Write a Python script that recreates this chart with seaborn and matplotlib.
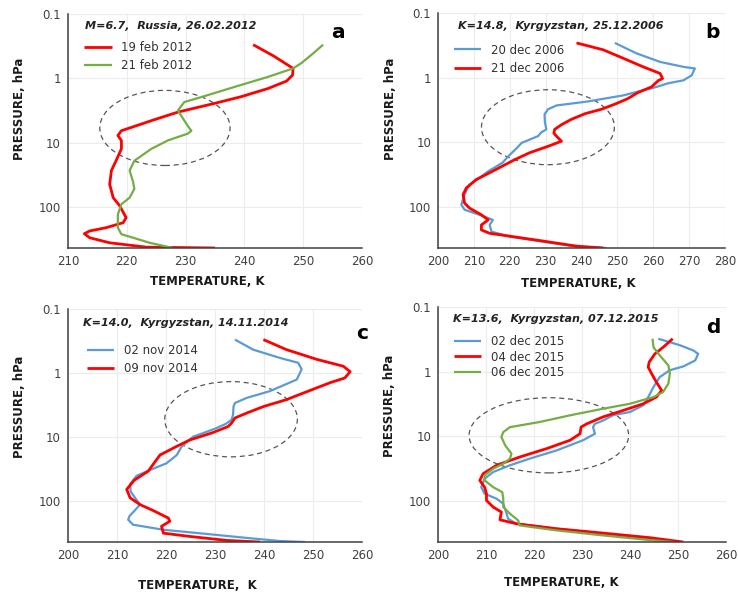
import numpy as np
import matplotlib
matplotlib.use("Agg")
import matplotlib.pyplot as plt
from matplotlib.patches import Ellipse
import seaborn as sns

# ---- data ----
# a) M=6.7, Russia, 26.02.2012
a_feb19_p = [0.30, 0.45, 0.70, 0.89, 1.10, 1.44, 1.93, 2.45, 3.34, 4.5, 6.5, 7.7, 9.2, 12.4, 18.9, 27, 44, 71,
             95, 145, 174, 208, 234, 258, 298, 357, 417, 430]
a_feb19_t = [241.5, 245.0, 248.3, 248.2, 247.2, 244.0, 239.4, 234.9, 228.7, 224.3, 219.1, 218.5, 219.1, 219.1,
             218.2, 217.4, 217.1, 217.7, 218.8, 219.9, 219.4, 216.5, 213.7, 212.8, 213.7, 217.1, 223.3, 235.0]
a_feb21_p = [0.30, 0.41, 0.58, 0.70, 0.95, 1.36, 1.95, 2.33, 3.15, 4.24, 5.5, 6.5, 7.2, 9.2, 12.4, 19, 27, 41,
             52, 71, 90, 129, 208, 263, 298, 357, 430]
a_feb21_t = [253.4, 251.7, 249.7, 248.3, 244.0, 238.3, 232.7, 229.8, 228.7, 229.6, 230.4, 231.0, 230.4, 227.0,
             224.2, 221.3, 220.5, 221.1, 221.3, 220.5, 219.1, 218.5, 218.5, 219.1, 221.1, 223.9, 227.9]

# b) K=14.8, Kyrgyzstan, 25.12.2006
b_dec20_p = [0.29, 0.42, 0.57, 0.68, 0.72, 0.92, 1.10, 1.22, 1.39, 1.88, 2.33, 2.69, 3.07, 3.67, 4.9, 6.3, 7.0,
             8.0, 10.2, 12.5, 16.4, 20.6, 28, 35.3, 44.9, 54, 64, 92, 110, 132, 158, 189, 240, 287, 344, 411, 430]
b_dec20_t = [249.3, 255.3, 261.9, 268.4, 271.6, 270.7, 268.4, 264.1, 260.9, 251.6, 241.8, 233.0, 230.7, 229.7,
             229.8, 230.2, 228.8, 227.9, 223.3, 221.8, 219.6, 218.0, 214.0, 211.6, 208.8, 208.0, 207.4, 206.5,
             207.4, 211.6, 215.3, 214.4, 214.9, 220.0, 229.3, 238.6, 247.0]
b_dec21_p = [0.29, 0.37, 0.50, 0.68, 0.86, 1.03, 1.11, 1.39, 1.69, 2.12, 2.54, 3.07, 3.6, 4.4, 5.3, 6.3, 7.2,
             8.0, 9.6, 11.5, 14.5, 18.5, 24, 29.5, 37.5, 50.6, 64, 87, 104, 132, 158, 189, 226, 255, 287, 336,
             402, 430]
b_dec21_t = [238.6, 246.0, 251.6, 257.2, 261.9, 262.6, 261.4, 259.5, 255.8, 252.8, 249.5, 245.6, 241.0, 237.2,
             234.5, 232.5, 232.3, 233.0, 234.4, 230.7, 225.5, 221.4, 217.5, 214.4, 210.7, 207.9, 207.0, 207.4,
             208.8, 212.1, 214.0, 212.1, 212.1, 214.4, 220.9, 229.3, 238.6, 246.0]

# c) K=14.0, Kyrgyzstan, 14.11.2014
c_nov02_p = [0.30, 0.43, 0.58, 0.69, 0.87, 1.26, 1.91, 2.43, 2.92, 3.3, 4.45, 5.33, 6.2, 7.2, 8.5, 9.75, 14,
             19, 25.5, 32.5, 40, 54, 70, 90, 112, 140, 168, 193, 231, 277, 320, 375, 415, 430]
c_nov02_t = [234.1, 237.8, 243.3, 247.0, 247.7, 246.7, 241.2, 236.5, 234.1, 233.8, 233.7, 233.4, 232.2, 230.3,
             227.8, 225.6, 223.2, 222.2, 220.1, 216.7, 214.0, 212.7, 212.8, 213.8, 214.7, 213.6, 212.6, 212.3,
             213.3, 219.5, 228.0, 237.1, 243.3, 248.4]
c_nov09_p = [0.30, 0.43, 0.61, 0.78, 0.95, 1.19, 1.41, 2.05, 2.59, 3.3, 4.19, 5.0, 6.0, 6.8, 8.5, 11.0, 14.1,
             18.9, 24, 33.7, 47, 65, 88, 112, 140, 182, 204, 245, 313, 352, 406, 430]
c_nov09_t = [239.9, 244.6, 250.8, 256.2, 257.6, 256.5, 253.5, 248.0, 244.6, 240.0, 236.5, 234.1, 233.4, 232.7,
             229.5, 224.9, 222.0, 218.8, 217.8, 216.4, 213.5, 212.0, 212.7, 214.7, 217.5, 220.5, 220.8, 219.1,
             219.5, 224.9, 232.4, 239.2]

# d) K=13.6, Kyrgyzstan, 07.12.2015
d_dec02_p = [0.31, 0.39, 0.47, 0.53, 0.67, 0.83, 0.95, 1.21, 1.73, 2.47, 3.3, 4.2, 4.7, 5.7, 6.4, 7.2, 9.1,
             11.5, 16.5, 22.1, 28, 35.6, 45.2, 61, 77, 92, 110, 157, 188, 224, 268, 320, 382, 430]
d_dec02_t = [245.9, 250.4, 253.2, 254.2, 253.6, 251.1, 248.3, 246.2, 244.9, 243.8, 242.8, 240.0, 236.5, 234.4,
             232.7, 232.3, 232.7, 230.2, 224.7, 219.1, 215.0, 211.5, 209.7, 209.0, 209.7, 212.2, 213.6, 214.3,
             214.6, 216.3, 224.7, 234.4, 243.5, 250.4]
d_dec04_p = [0.31, 0.42, 0.53, 0.71, 0.85, 1.07, 1.45, 1.95, 2.47, 3.13, 3.97, 5.0, 6.4, 7.2, 9.1, 11.5, 15.5,
             20.9, 28, 37.8, 47.9, 61, 77, 98, 124, 148, 195, 224, 268, 313, 369, 430]
d_dec04_t = [248.9, 246.9, 245.2, 244.0, 243.8, 244.5, 245.5, 246.6, 245.5, 242.8, 238.6, 234.4, 231.0, 229.8,
             229.6, 227.5, 222.6, 217.0, 212.2, 209.4, 208.7, 209.7, 210.1, 210.1, 211.5, 213.2, 212.9, 216.3,
             224.7, 234.4, 244.2, 251.1]
d_dec06_p = [0.31, 0.42, 0.56, 0.80, 1.07, 1.53, 2.06, 2.47, 3.13, 3.74, 4.73, 6.0, 7.2, 8.6, 10.2, 13.8, 18.5,
             22.1, 26.5, 31.6, 40, 47.9, 61, 73, 92, 124, 157, 199, 238, 284, 340, 397, 430]
d_dec06_t = [244.7, 244.9, 246.2, 248.0, 248.3, 248.0, 246.9, 244.9, 240.0, 234.4, 227.5, 221.2, 215.0, 213.6,
             213.2, 214.0, 215.3, 215.0, 213.6, 211.5, 209.7, 209.7, 211.5, 213.4, 213.6, 213.6, 215.0, 216.7,
             217.0, 224.7, 234.4, 243.5, 249.0]

p_ticks = [0.1, 1, 10, 100]
p_ticklabels = ["0.1", "1", "10", "100"]

RED = "#ff0000"
GREEN = "#74ad45"
BLUE = "#5b9bd5"

sns.set_style("white")
plt.rcParams["font.family"] = ["DejaVu Sans"]

fig = plt.figure(figsize=(7.38, 5.97), dpi=100)

panels = [
    dict(rect=[0.092, 0.5846, 0.3984, 0.392], xlim=(210, 260), xticks=range(210, 261, 10),
         title="M=6.7,  Russia, 26.02.2012", letter="a", tpos=(0.058, 0.947), lpos=(0.918, 0.92),
         leg=(0.04, 0.905), ls=0.45, ell=(0.330, 0.513, 0.443, 0.321), xlab="TEMPERATURE, K",
         xlc=(0.473, -0.145), ylc=(-0.163, 0.594),
         series=[(a_feb19_t, a_feb19_p, "19 feb 2012", RED, 2.0),
                 (a_feb21_t, a_feb21_p, "21 feb 2012", GREEN, 1.6)]),
    dict(rect=[0.5935, 0.5846, 0.3889, 0.3936], xlim=(200, 280), xticks=range(200, 281, 10),
         title="K=14.8,  Kyrgyzstan, 25.12.2006", letter="b", tpos=(0.07, 0.945), lpos=(0.958, 0.915),
         leg=(0.04, 0.89), ls=0.45, ell=(0.383, 0.514, 0.463, 0.319), xlab="TEMPERATURE, K",
         xlc=(0.488, -0.15), ylc=(-0.167, 0.594),
         series=[(b_dec20_t, b_dec20_p, "20 dec 2006", BLUE, 1.6),
                 (b_dec21_t, b_dec21_p, "21 dec 2006", RED, 2.0)]),
    dict(rect=[0.092, 0.0921, 0.3984, 0.3903], xlim=(200, 260), xticks=range(200, 261, 10),
         title="K=14.0,  Kyrgyzstan, 14.11.2014", letter="c", tpos=(0.051, 0.94), lpos=(1.0, 0.897),
         leg=(0.05, 0.87), ls=0.45, ell=(0.555, 0.527, 0.451, 0.323), xlab="TEMPERATURE,  K",
         xlc=(0.44, -0.185), ylc=(-0.163, 0.58),
         series=[(c_nov02_t, c_nov02_p, "02 nov 2014", BLUE, 1.6),
                 (c_nov09_t, c_nov09_p, "09 nov 2014", RED, 2.0)]),
    dict(rect=[0.5935, 0.0921, 0.3902, 0.3937], xlim=(200, 260), xticks=range(200, 261, 10),
         title="K=13.6,  Kyrgyzstan, 07.12.2015", letter="d", tpos=(0.052, 0.949), lpos=(0.955, 0.911),
         leg=(0.04, 0.9), ls=0.2, ell=(0.385, 0.454, 0.554, 0.32), xlab="TEMPERATURE, K",
         xlc=(0.427, -0.174), ylc=(-0.167, 0.58),
         series=[(d_dec02_t, d_dec02_p, "02 dec 2015", BLUE, 1.6),
                 (d_dec04_t, d_dec04_p, "04 dec 2015", RED, 2.0),
                 (d_dec06_t, d_dec06_p, "06 dec 2015", GREEN, 1.6)]),
]

for pn in panels:
    ax = fig.add_axes(pn["rect"])
    for t, p, lab, col, lw in pn["series"]:
        sns.lineplot(x=t, y=p, sort=False, estimator=None, color=col, lw=lw, label=lab, ax=ax,
                     solid_joinstyle="round", solid_capstyle="butt")

    ax.set_yscale("log")
    ax.set_ylim(430, 0.1)
    ax.set_yticks(p_ticks)
    ax.set_yticklabels(p_ticklabels)
    ax.yaxis.set_minor_locator(matplotlib.ticker.NullLocator())
    ax.set_xlim(*pn["xlim"])
    ax.set_xticks(list(pn["xticks"]))

    ax.grid(True, color="#ececec", lw=0.8)
    for s in ["top", "right"]:
        ax.spines[s].set_visible(False)
    for s in ["left", "bottom"]:
        ax.spines[s].set_color("#404040")
        ax.spines[s].set_linewidth(1.1)
    ax.tick_params(axis="y", direction="out", length=3, width=1, colors="#404040", labelsize=8.5, pad=2)
    ax.tick_params(axis="x", direction="in", length=3, width=1, colors="#404040", labelsize=8.5, pad=5)

    ax.set_xlabel(pn["xlab"], fontsize=8.5, fontweight="bold", color="#1a1a1a")
    ax.set_ylabel("PRESSURE, hPa", fontsize=8.5, fontweight="bold", color="#1a1a1a")
    ax.xaxis.set_label_coords(*pn["xlc"])
    ax.yaxis.set_label_coords(*pn["ylc"])
    ax.xaxis.label.set_va("center")
    ax.yaxis.label.set_va("center")

    ax.text(pn["tpos"][0], pn["tpos"][1], pn["title"], transform=ax.transAxes, fontsize=8,
            fontweight="bold", fontstyle="italic", color="#222222", va="center", ha="left")
    ax.text(pn["lpos"][0], pn["lpos"][1], pn["letter"], transform=ax.transAxes, fontsize=14.5,
            fontweight="bold", color="black", va="center", ha="center")

    ex, ey, ew, eh = pn["ell"]
    ax.add_patch(Ellipse((ex, ey), ew, eh, transform=ax.transAxes, fill=False,
                         ec="#555555", lw=0.9, ls=(0, (4, 3))))

    ax.legend(loc="upper left", bbox_to_anchor=pn["leg"], frameon=False, fontsize=8.5,
              handlelength=2.3, handletextpad=0.8, labelspacing=pn["ls"], borderaxespad=0,
              labelcolor="#333333")

fig.savefig("out.png", dpi=100)
